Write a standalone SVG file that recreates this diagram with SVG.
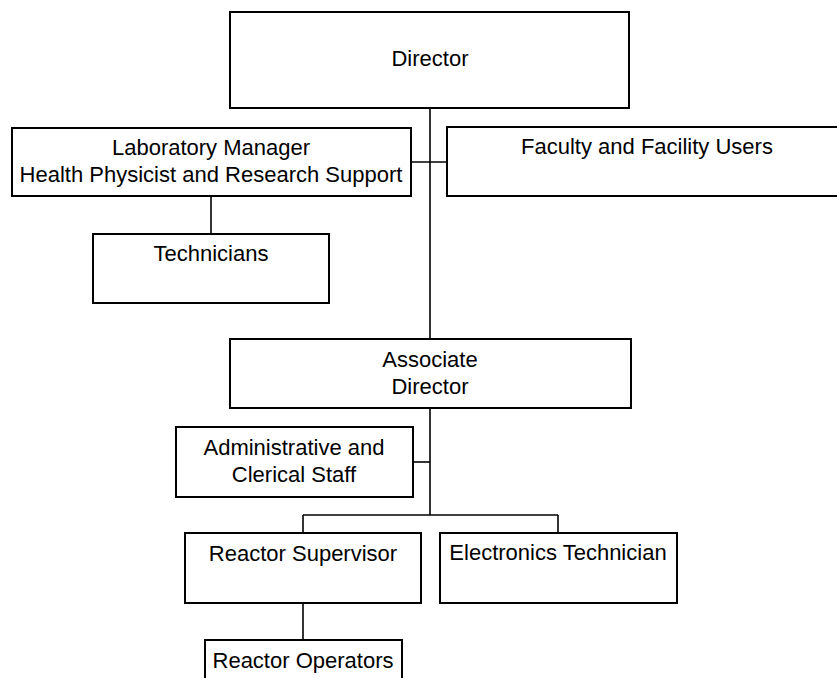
<svg xmlns="http://www.w3.org/2000/svg" width="837" height="678" viewBox="0 0 837 678">
<style>
.box{fill:#fff;stroke:#000;stroke-width:2}
.lbl{font-family:"Liberation Sans",Arial,sans-serif;font-size:22px;fill:#000;text-anchor:middle}
.conn line{stroke:#000;stroke-width:1.6}
</style>
<rect width="837" height="678" fill="#fff"/>
<g id="connectors" class="conn">
<line x1="430" y1="108" x2="430" y2="339"/>
<line x1="411" y1="162" x2="447" y2="162"/>
<line x1="211" y1="196" x2="211" y2="234"/>
<line x1="430" y1="408" x2="430" y2="515"/>
<line x1="413" y1="462" x2="430" y2="462"/>
<line x1="303" y1="515" x2="558" y2="515"/>
<line x1="303" y1="515" x2="303" y2="533"/>
<line x1="558" y1="515" x2="558" y2="533"/>
<line x1="303" y1="603" x2="303" y2="640"/>
</g>
<g id="director">
<rect class="box" x="230" y="12" width="399" height="96"/>
<text class="lbl" x="430" y="66">Director</text>
</g>
<g id="lab-manager">
<rect class="box" x="12" y="128" width="399" height="68"/>
<text class="lbl" x="211" y="155">Laboratory Manager</text>
<text class="lbl" x="211" y="182">Health Physicist and Research Support</text>
</g>
<g id="faculty">
<rect class="box" x="447" y="127" width="400" height="69"/>
<text class="lbl" x="647" y="154">Faculty and Facility Users</text>
</g>
<g id="technicians">
<rect class="box" x="93" y="234" width="236" height="69"/>
<text class="lbl" x="211" y="261">Technicians</text>
</g>
<g id="associate-director">
<rect class="box" x="230" y="339" width="401" height="69"/>
<text class="lbl" x="430" y="367">Associate</text>
<text class="lbl" x="430" y="394">Director</text>
</g>
<g id="admin-staff">
<rect class="box" x="176" y="427" width="237" height="70"/>
<text class="lbl" x="294" y="455">Administrative and</text>
<text class="lbl" x="294" y="482">Clerical Staff</text>
</g>
<g id="reactor-supervisor">
<rect class="box" x="185" y="533" width="236" height="70"/>
<text class="lbl" x="303" y="561">Reactor Supervisor</text>
</g>
<g id="electronics-technician">
<rect class="box" x="440" y="533" width="237" height="70"/>
<text class="lbl" x="558" y="560">Electronics Technician</text>
</g>
<g id="reactor-operators">
<rect class="box" x="205" y="640" width="197" height="60"/>
<text class="lbl" x="303" y="668">Reactor Operators</text>
</g>
</svg>
